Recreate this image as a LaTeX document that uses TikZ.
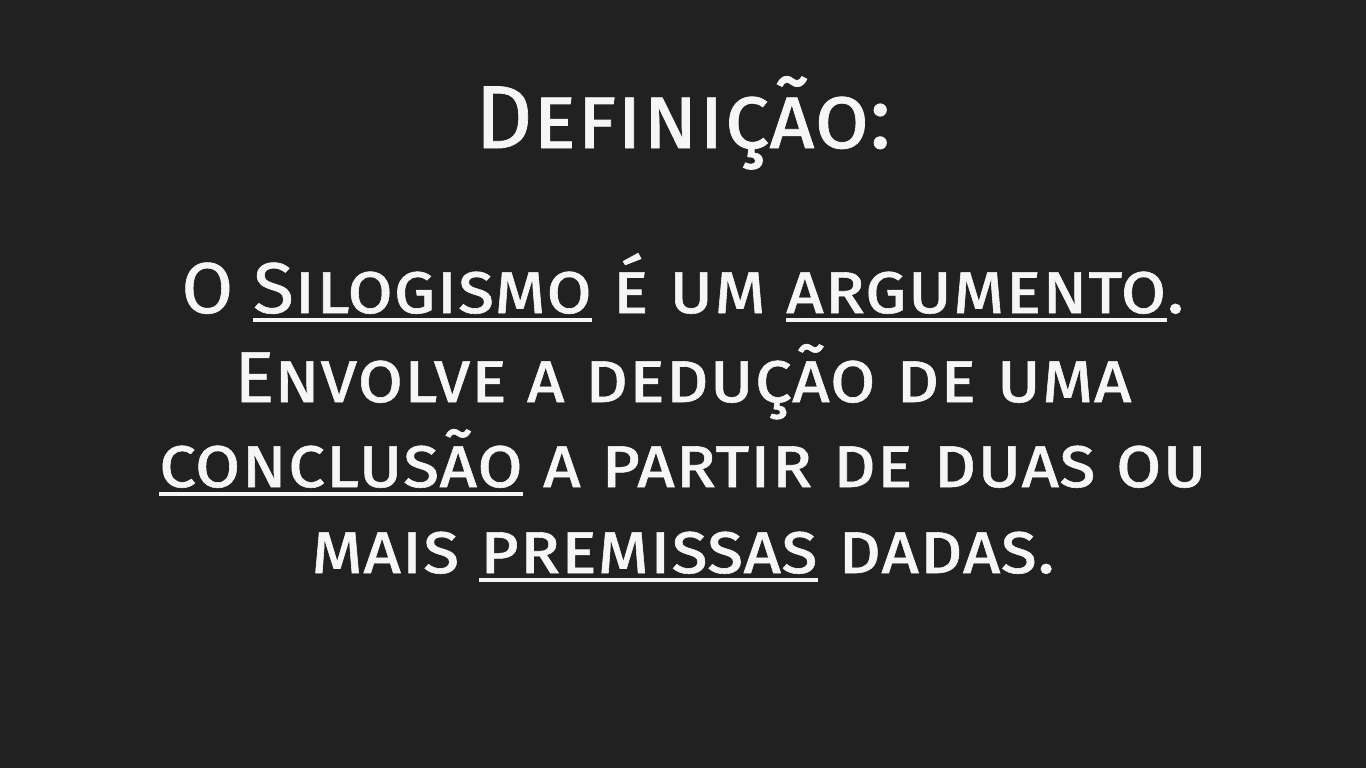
\documentclass[tikz,border=0pt]{standalone}
\usepackage{fontspec}
\usepackage{xcolor}
\usepackage{tikz}
\setmainfont[FakeBold=0.8]{Fira Sans}
\newfontfamily\bodyfont[FakeStretch=1.04,FakeBold=0.8]{Fira Sans}

\definecolor{board}{RGB}{33,33,33}
\definecolor{chalk}{RGB}{246,246,246}

% thick chalk underline under one word
\newcommand{\chalkul}[1]{\sbox0{#1}\rlap{\color{chalk}\vrule height -3.6pt depth 7pt width \wd0}\usebox0}

\begin{document}
\begin{tikzpicture}[x=0.75pt,y=0.75pt,yscale=-1,xscale=1]

    \fill [board] (0,0) rectangle (1366,768) ;
    \useasboundingbox (0,0) rectangle (1366,768) ;

    \draw (683,148) node [anchor=base][inner sep=0pt][text=chalk][font=\fontsize{67}{80}\selectfont\scshape] (title) {Definição:};

    \draw (683,313) node [anchor=base][inner sep=0pt][text=chalk][font=\bodyfont\fontsize{54}{64}\selectfont\scshape] (lineA) {O \chalkul{Silogismo} é um \chalkul{argumento}.};
    \draw (683,402) node [anchor=base][inner sep=0pt][text=chalk][font=\bodyfont\fontsize{54}{64}\selectfont\scshape] (lineB) {Envolve a dedução de uma};
    \draw (683,487) node [anchor=base][inner sep=0pt][text=chalk][font=\bodyfont\fontsize{54}{64}\selectfont\scshape] (lineC) {\chalkul{conclusão} a partir de duas ou};
    \draw (683,573) node [anchor=base][inner sep=0pt][text=chalk][font=\bodyfont\fontsize{54}{64}\selectfont\scshape] (lineD) {mais \chalkul{premissas} dadas.};

\end{tikzpicture}
\end{document}
